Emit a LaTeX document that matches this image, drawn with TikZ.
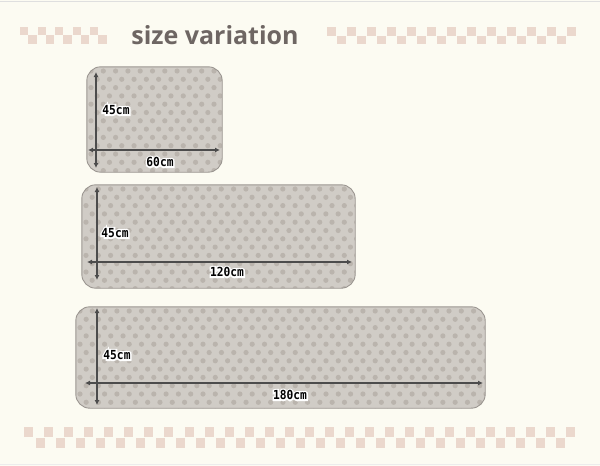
\documentclass[tikz,border=0pt]{standalone}
\usepackage{fontspec}
\setmainfont{Open Sans}
\newfontfamily\dimfont[FakeStretch=0.9]{DejaVu Sans Mono}
\newfontfamily\rimfont[FakeStretch=0.9,FakeBold=25]{DejaVu Sans Mono Bold}
\usetikzlibrary{arrows.meta}
\definecolor{paper}{HTML}{FCFBF2}
\definecolor{checkc}{HTML}{EBD8CD}
\definecolor{rugc}{HTML}{D0CCC6}
\definecolor{dotc}{HTML}{BAB4AD}
\definecolor{rugedge}{HTML}{99948F}
\definecolor{titlec}{HTML}{6E6663}
\definecolor{arrowc}{HTML}{4C4C4C}
% white rim under the size labels
\newcommand\halo[1]{\makebox[0pt]{\rimfont\bfseries\textcolor{white}{#1}}\makebox[0pt]{\bfseries #1}}
% dots of a rug: x0, y0, columns, rows
\newcommand\rugdots[4]{%
  \foreach \r in {0,...,#4}{
    \foreach \c in {0,...,#3}{
      \fill[dotc] ({#1+4+12.3*\c+6.15*mod(\r,2)},{#2+4+8.3*\r}) circle (2.6pt);
    }
  }
}
\begin{document}
\begin{tikzpicture}[
        x=1pt, y=-1pt,
        font=\dimfont\fontsize{12.5}{12.5}\selectfont
    ]
    \tikzset{
        rug/.style = {rectangle, rounded corners=14pt, fill=rugc, inner sep=0pt},
        rugline/.style = {draw=rugedge, line width=0.9pt, rounded corners=14pt},
        dimarrow/.style = {{Latex[length=5pt,width=5pt]}-{Latex[length=5pt,width=5pt]}, arrowc, line width=1.4pt},
        dimlabel/.style = {inner sep=0pt, text=black},
        titletext/.style = {font=\bfseries\fontsize{25}{25}\selectfont, text=titlec},
        checker/.style = {fill=checkc},
    }
        \fill[paper] (0,0) rectangle (600,466);
        \useasboundingbox (0,0) rectangle (600,466);
        \draw[gray!25, line width=1.5pt] (0,1.5) -- (600,1.5);
        \draw[gray!15, line width=1.5pt] (0,464.5) -- (600,464.5);
        %
        \node[titletext] (title) at (215,35) {size variation};
        \foreach \i in {0,...,4}{
            \fill[checker] (20+17.5*\i,27) rectangle ++(8.4,8.4);
            \fill[checker] (28.4+17.5*\i,35.4) rectangle ++(8.4,8.4);
        }
        \foreach \i in {0,...,12} \fill[checker] (327+20*\i,27) rectangle ++(8.7,8.7);
        \foreach \i in {0,...,11} \fill[checker] (337+20*\i,35.7) rectangle ++(8.7,8.7);
        \foreach \i in {0,...,27} \fill[checker] (24+20.07*\i,427) rectangle ++(9,10);
        \foreach \i in {0,...,26} \fill[checker] (35.5+20*\i,437.5) rectangle ++(9,10);
        %
        \node[rug, minimum width=135pt, minimum height=105pt] (rugs) at (154.5,119.5) {};
        \node[rug, minimum width=273pt, minimum height=103pt] (rugm) at (218.5,236.5) {};
        \node[rug, minimum width=409pt, minimum height=101pt] (rugl) at (280.5,357.5) {};
        \begin{scope}
            \clip[rounded corners=14pt] (rugs.north west) rectangle (rugs.south east);
            \rugdots{87}{67}{11}{12}
        \end{scope}
        \begin{scope}
            \clip[rounded corners=14pt] (rugm.north west) rectangle (rugm.south east);
            \rugdots{82}{185}{22}{12}
        \end{scope}
        \begin{scope}
            \clip[rounded corners=14pt] (rugl.north west) rectangle (rugl.south east);
            \rugdots{76}{307}{33}{12}
        \end{scope}
        \draw[rugline] (rugs.north west) rectangle (rugs.south east);
        \draw[rugline] (rugm.north west) rectangle (rugm.south east);
        \draw[rugline] (rugl.north west) rectangle (rugl.south east);
        %
        \coordinate (s-top) at (96,72);
        \coordinate (s-bot) at (96,168);
        \coordinate (s-left) at (88,150);
        \coordinate (s-right) at (220,150);
        \coordinate (m-top) at (97,187);
        \coordinate (m-bot) at (97,280);
        \coordinate (m-left) at (87,262);
        \coordinate (m-right) at (352,262);
        \coordinate (l-top) at (97,308);
        \coordinate (l-bot) at (97,405);
        \coordinate (l-left) at (85,383);
        \coordinate (l-right) at (483,383);
        %
        \draw[dimarrow] (s-top) -- (s-bot);
        \draw[dimarrow] (s-left) -- (s-right);
        \draw[dimarrow] (m-top) -- (m-bot);
        \draw[dimarrow] (m-left) -- (m-right);
        \draw[dimarrow] (l-top) -- (l-bot);
        \draw[dimarrow] (l-left) -- (l-right);
        %
        \node[dimlabel] (s-h) at (116,110) {\halo{45cm}};
        \node[dimlabel] (s-w) at (160,162) {\halo{60cm}};
        \node[dimlabel] (m-h) at (115,233) {\halo{45cm}};
        \node[dimlabel] (m-w) at (227,272) {\halo{120cm}};
        \node[dimlabel] (l-h) at (117,355) {\halo{45cm}};
        \node[dimlabel] (l-w) at (290,395) {\halo{180cm}};
    \end{tikzpicture}
\end{document}
